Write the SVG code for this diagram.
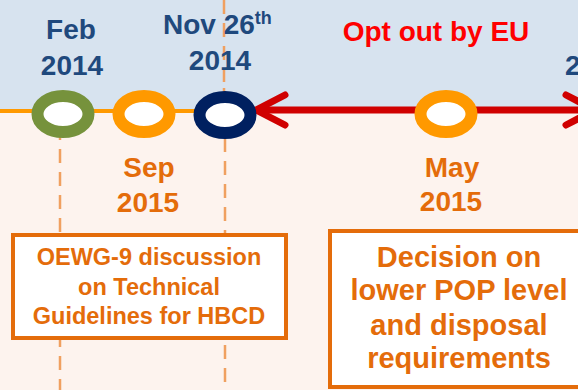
<svg xmlns="http://www.w3.org/2000/svg" width="578" height="390" viewBox="0 0 578 390">
<defs>
<style>
.date{font-family:"Liberation Sans",Arial,sans-serif;font-weight:bold;font-size:28px;text-anchor:middle}
.blue{fill:#1F497D}
.org{fill:#E46C0A}
.box{fill:#FFFFFF;stroke:#E46C0A;stroke-width:4}
.bt1{font-family:"Liberation Sans",Arial,sans-serif;font-weight:bold;font-size:23.5px;fill:#E46C0A;text-anchor:middle}
.bt2{font-family:"Liberation Sans",Arial,sans-serif;font-weight:bold;font-size:29px;fill:#E46C0A;text-anchor:middle}
.dash{stroke:#F0A060;stroke-width:2.5;stroke-dasharray:14 9;fill:none}
.ring{fill:#FFFFFF;stroke-width:12}
</style>
</defs>
<rect x="0" y="0" width="578" height="112" fill="#D7E3EF"/>
<rect x="0" y="112" width="578" height="278" fill="#FDF3EE"/>
<g id="connectors">
<path class="dash" d="M224 0 V82 M224 88 V92"/>
<path class="dash" d="M225 138 V390"/>
<path class="dash" d="M60 126 V390"/>
<line x1="0" y1="111" x2="200" y2="111" stroke="#FF9900" stroke-width="4"/>
<line x1="256" y1="110" x2="578" y2="110" stroke="#D00000" stroke-width="7"/>
<polyline points="285,95 256,110 285,125" fill="none" stroke="#D00000" stroke-width="7" stroke-linecap="round" stroke-linejoin="round"/>
<polyline points="566,95 595,110 566,125" fill="none" stroke="#D00000" stroke-width="7" stroke-linecap="round" stroke-linejoin="round"/>
</g>
<g id="feb2014">
<ellipse class="ring" cx="63" cy="114" rx="25.5" ry="18" stroke="#76923C" stroke-width="13"/>
<text class="date blue" x="71" y="39">Feb</text>
<text class="date blue" x="72" y="75">2014</text>
</g>
<g id="sep2015">
<ellipse class="ring" cx="144" cy="114" rx="25.5" ry="18" stroke="#FF9900" stroke-width="13"/>
<text class="date org" x="149" y="177">Sep</text>
<text class="date org" x="148" y="212">2015</text>
</g>
<g id="nov2014">
<ellipse class="ring" cx="225" cy="115" rx="25.5" ry="18" stroke="#002060" stroke-width="13"/>
<text class="date blue" x="163" y="34" style="text-anchor:start">Nov 26<tspan font-size="18" dy="-10">th</tspan></text>
<text class="date blue" x="220" y="70">2014</text>
</g>
<g id="optout">
<text class="date" x="436" y="41" fill="#FF0000">Opt out by EU</text>
</g>
<g id="may2015">
<ellipse class="ring" cx="446" cy="114" rx="25.5" ry="18" stroke="#FF9900" stroke-width="13"/>
<text class="date org" x="452" y="177">May</text>
<text class="date org" x="451" y="211">2015</text>
</g>
<g id="next">
<text class="date blue" x="565" y="75" style="text-anchor:start">2</text>
</g>
<g id="oewg">
<rect class="box" x="13" y="235" width="273" height="103"/>
<text class="bt1" x="149" y="265">OEWG-9 discussion</text>
<text class="bt1" x="149" y="295">on Technical</text>
<text class="bt1" x="149" y="324">Guidelines for HBCD</text>
</g>
<g id="decision">
<rect class="box" x="330" y="231" width="260" height="156"/>
<text class="bt2" x="459" y="267">Decision on</text>
<text class="bt2" x="459" y="300">lower POP level</text>
<text class="bt2" x="459" y="335">and disposal</text>
<text class="bt2" x="459" y="368">requirements</text>
</g>
</svg>
